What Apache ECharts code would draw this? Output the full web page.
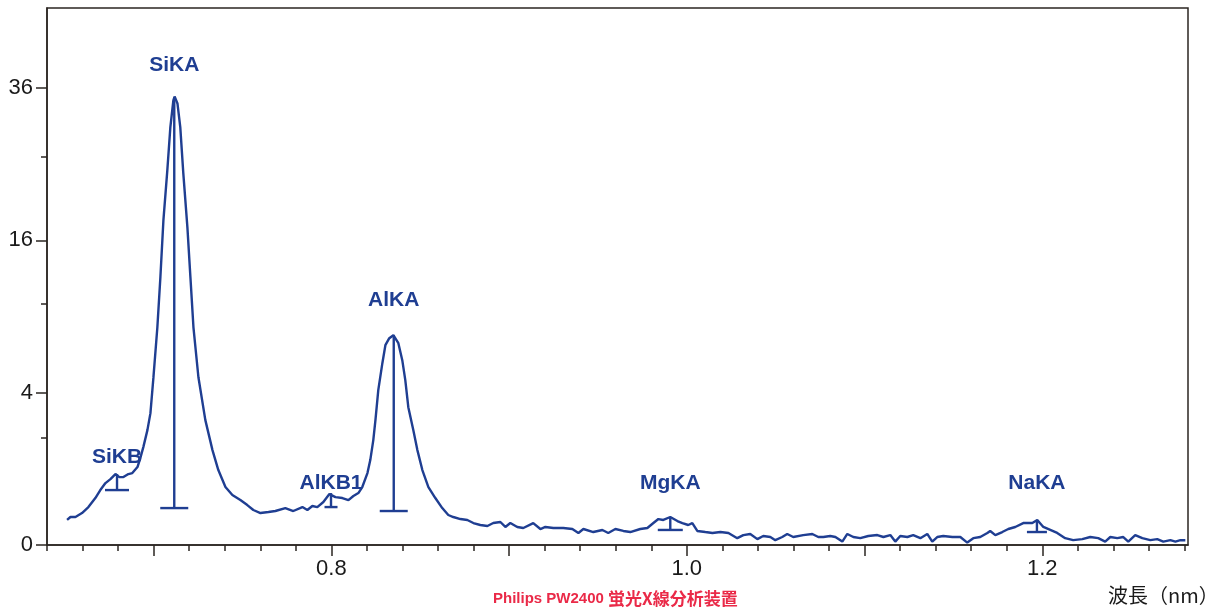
<!DOCTYPE html>
<html>
<head>
<meta charset="utf-8">
<script src="https://cdn.jsdelivr.net/npm/echarts@6/dist/echarts.min.js"></script>
<style>
html,body{margin:0;padding:0;background:#fff;}
#chart{width:1226px;height:611px;}
</style>
</head>
<body>
<div id="chart"></div>
<script>
// ---- data (wavelength in nm, intensity in kcps, plotted on a square-root scale) ----
const wavelengths = [
0.6513,0.6532,0.6560,0.6597,0.6633,0.6672,0.6700,0.6729,0.6757,0.6785,
0.6807,0.6830,0.6858,0.6880,0.6909,0.6925,0.6942,0.6965,0.6982,0.6999,
0.7021,0.7038,0.7055,0.7077,0.7094,0.7111,0.7118,0.7134,0.7150,0.7167,
0.7190,0.7207,0.7224,0.7252,0.7291,0.7331,0.7364,0.7404,0.7443,0.7488,
0.7527,0.7561,0.7601,0.7646,0.7685,0.7741,0.7786,0.7837,0.7865,0.7893,
0.7921,0.7955,0.7989,0.8023,0.8062,0.8096,0.8124,0.8152,0.8174,0.8203,
0.8219,0.8236,0.8248,0.8264,0.8287,0.8304,0.8326,0.8349,0.8377,0.8399,
0.8416,0.8433,0.8461,0.8484,0.8512,0.8546,0.8585,0.8624,0.8658,0.8686,
0.8726,0.8765,0.8799,0.8838,0.8878,0.8911,0.8951,0.8979,0.9007,0.9046,
0.9080,0.9136,0.9176,0.9204,0.9249,0.9305,0.9356,0.9390,0.9418,0.9474,
0.9525,0.9558,0.9598,0.9643,0.9682,0.9738,0.9778,0.9812,0.9840,0.9868,
0.9907,0.9947,0.9975,1.0008,1.0031,1.0059,1.0104,1.0144,1.0189,1.0234,
1.0284,1.0318,1.0357,1.0397,1.0430,1.0470,1.0498,1.0537,1.0565,1.0599,
1.0655,1.0706,1.0740,1.0768,1.0807,1.0836,1.0875,1.0903,1.0937,1.0976,
1.1021,1.1072,1.1106,1.1145,1.1173,1.1201,1.1241,1.1274,1.1314,1.1353,
1.1381,1.1409,1.1443,1.1494,1.1539,1.1578,1.1612,1.1651,1.1691,1.1707,
1.1736,1.1775,1.1809,1.1848,1.1893,1.1944,1.1972,1.2006,1.2045,1.2084,
1.2129,1.2174,1.2225,1.2270,1.2315,1.2354,1.2383,1.2422,1.2456,1.2484,
1.2523,1.2563,1.2608,1.2647,1.2681,1.2721,1.2749,1.2777,1.2805
];
const intensities = [
0.108,0.135,0.135,0.176,0.248,0.380,0.520,0.661,0.749,0.867,
0.795,0.795,0.867,0.892,1.047,1.302,1.652,2.275,2.997,4.855,
8.174,12.354,18.167,24.187,30.052,34.060,34.670,33.600,30.050,23.800,
17.390,12.350,8.170,4.850,2.687,1.552,0.968,0.579,0.430,0.348,
0.275,0.211,0.176,0.187,0.199,0.235,0.199,0.248,0.211,0.262,
0.248,0.318,0.447,0.396,0.380,0.348,0.413,0.465,0.579,0.892,
1.243,1.896,2.687,4.132,5.697,6.880,7.370,7.585,7.018,5.887,
4.683,3.275,2.275,1.552,0.968,0.579,0.380,0.235,0.155,0.135,
0.116,0.108,0.083,0.069,0.062,0.083,0.091,0.056,0.083,0.056,
0.050,0.083,0.044,0.056,0.050,0.050,0.044,0.025,0.044,0.029,
0.039,0.025,0.044,0.034,0.029,0.044,0.050,0.083,0.116,0.108,
0.135,0.099,0.083,0.069,0.083,0.034,0.029,0.025,0.029,0.025,
0.008,0.017,0.021,0.006,0.014,0.011,0.004,0.011,0.021,0.011,
0.017,0.021,0.011,0.011,0.014,0.011,0.002,0.021,0.011,0.008,
0.014,0.017,0.011,0.017,0.002,0.014,0.011,0.017,0.008,0.021,
0.002,0.011,0.014,0.011,0.011,0.001,0.008,0.011,0.025,0.034,
0.017,0.029,0.044,0.056,0.083,0.083,0.108,0.056,0.039,0.025,
0.008,0.004,0.006,0.011,0.008,0.002,0.011,0.008,0.011,0.002,
0.017,0.008,0.004,0.006,0.002,0.004,0.002,0.004,0.004
];

// peak identification markers
const peakNames      = ['SiKB', 'SiKA', 'AlKB1', 'AlKA', 'MgKA', 'NaKA'];
const peakWaves      = [0.6794, 0.7116, 0.7998, 0.8351, 0.9907, 1.1970];
const peakTops       = [0.867, 34.52, 0.465, 7.585, 0.135, 0.108];
const peakBases      = [0.520, 0.235, 0.248, 0.199, 0.039, 0.029];
const peakLabelLevel = [1.332, 39.63, 0.661, 10.32, 0.661, 0.651];

// axis ticks
const yTickValues   = [0, 4, 16, 36];
const yMinorValues  = [2, 10, 26];
const xLabelValues  = [0.8, 1.0, 1.2];
const xMin = 0.64, xMax = 1.282, yMaxValue = 49.7;

// ---- styles ----
const BLUE = '#1f3e92';
const AXIS = '#2b2622';
const barHalf = [12, 14, 6.5, 14, 12.5, 10];

const xMajorTicks = [];
for (let i = 7; i <= 12; i++) xMajorTicks.push(+(i / 10).toFixed(2));
const xMinorTicks = [];
for (let i = 32; i <= 64; i++) xMinorTicks.push(+(i * 0.02).toFixed(2));

const lineData = wavelengths.map((w, i) => [w, Math.sqrt(intensities[i])]);
const peakData = peakNames.map((n, i) => [peakWaves[i], Math.sqrt(peakTops[i]), Math.sqrt(peakBases[i]), Math.sqrt(peakLabelLevel[i])]);

const chart = echarts.init(document.getElementById('chart'), null, {renderer: 'canvas'});
const labelFont = {color: '#1a1a1a', fontSize: 22, fontFamily: '"Liberation Sans", Arial, sans-serif'};

chart.setOption({
  animation: false,
  backgroundColor: '#ffffff',
  grid: {left: 47, right: 38, top: 8, bottom: 66, show: true, borderColor: AXIS, borderWidth: 1.5, containLabel: false, outerBoundsMode: 'none'},
  xAxis: [{
    type: 'value', min: xMin, max: xMax, position: 'bottom',
    axisLine: {show: true, onZero: false, lineStyle: {color: AXIS, width: 1.5}},
    axisTick: {show: true, length: 11, inside: false, customValues: xMajorTicks, lineStyle: {color: AXIS, width: 1.5}},
    axisLabel: Object.assign({show: true, margin: 13, customValues: xLabelValues, formatter: v => v.toFixed(1)}, labelFont),
    splitLine: {show: false}
  }, {
    type: 'value', min: xMin, max: xMax, position: 'bottom',
    axisLine: {show: false},
    axisTick: {show: true, length: 6, customValues: xMinorTicks, lineStyle: {color: AXIS, width: 1.5}},
    axisLabel: {show: false},
    splitLine: {show: false}
  }],
  yAxis: [{
    type: 'value', min: 0, max: Math.sqrt(yMaxValue), position: 'left',
    axisLine: {show: true, onZero: false, lineStyle: {color: AXIS, width: 1.5}},
    axisTick: {show: true, length: 11, customValues: yTickValues.map(Math.sqrt), lineStyle: {color: AXIS, width: 1.5}},
    axisLabel: Object.assign({show: true, margin: 14, customValues: yTickValues.map(Math.sqrt), formatter: v => String(Math.round(v * v))}, labelFont),
    splitLine: {show: false}
  }, {
    type: 'value', min: 0, max: Math.sqrt(yMaxValue), position: 'left',
    axisLine: {show: false},
    axisTick: {show: true, length: 6, customValues: yMinorValues.map(Math.sqrt), lineStyle: {color: AXIS, width: 1.5}},
    axisLabel: {show: false},
    splitLine: {show: false}
  }],
  series: [{
    type: 'line', xAxisIndex: 0, yAxisIndex: 0, data: lineData,
    showSymbol: false, symbol: 'none', smooth: false,
    lineStyle: {color: BLUE, width: 2.4}, z: 3
  }, {
    type: 'custom', xAxisIndex: 0, yAxisIndex: 0, data: peakData, z: 4,
    renderItem: function (params, api) {
      const i = params.dataIndex;
      const x = api.value(0);
      const pTop = api.coord([x, api.value(1)]);
      const pBase = api.coord([x, api.value(2)]);
      const pLab = api.coord([x, api.value(3)]);
      const hw = barHalf[i];
      return {type: 'group', children: [
        {type: 'line', shape: {x1: pTop[0], y1: pTop[1], x2: pBase[0], y2: pBase[1]}, style: {stroke: BLUE, lineWidth: 2.4}},
        {type: 'line', shape: {x1: pBase[0] - hw, y1: pBase[1], x2: pBase[0] + hw, y2: pBase[1]}, style: {stroke: BLUE, lineWidth: 2.4}},
        {type: 'text', x: pLab[0], y: pLab[1], style: {text: peakNames[i], fill: BLUE, font: 'bold 21px "Liberation Sans", Arial, sans-serif', align: 'center', verticalAlign: 'middle'}}
      ]};
    }
  }],
  graphic: [{
    type: 'text', left: 1108, top: 585,
    style: {text: '波長（nm）', fill: '#1a1a1a', font: '20px "Noto Sans CJK JP", sans-serif'}
  }, {
    type: 'text', left: 493, top: 590,
    style: {
      text: '{a|Philips PW2400 }{b|蛍光X線分析装置}',
      rich: {
        a: {fill: '#ea2a48', fontSize: 15, fontWeight: 'bold', fontFamily: '"Liberation Sans", Arial, sans-serif'},
        b: {fill: '#ea2a48', fontSize: 17, fontWeight: 'bold', fontFamily: '"Noto Sans CJK JP", sans-serif'}
      }
    }
  }]
});
</script>
</body>
</html>
